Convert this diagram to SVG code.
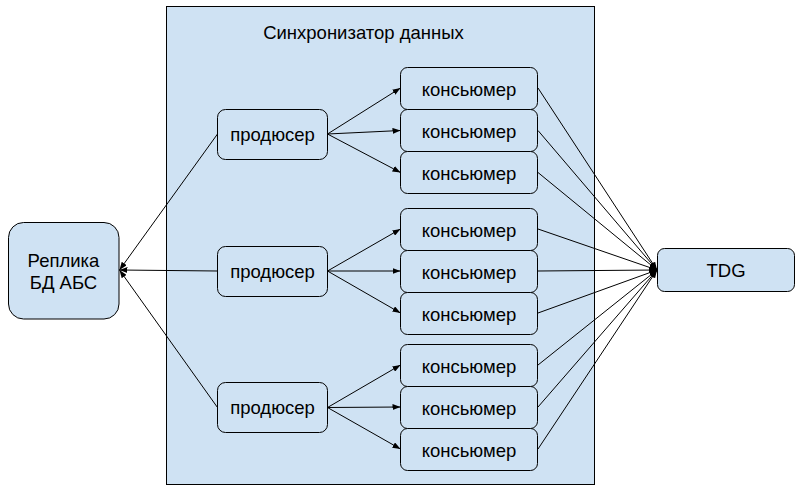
<svg xmlns="http://www.w3.org/2000/svg" width="800" height="491" viewBox="0 0 800 491">
<style>
.box{fill:#cfe2f3;stroke:#000;stroke-width:1}
.t{font-family:"Liberation Sans",Arial,sans-serif;font-size:18.5px;fill:#000;text-anchor:middle}
.c{stroke:#000;stroke-width:1;fill:none;marker-end:url(#ah)}
</style>
<defs>
<marker id="ah" markerUnits="userSpaceOnUse" viewBox="0 0 8 6" markerWidth="8" markerHeight="6" refX="8" refY="3" orient="auto">
<path d="M0,0 L8,3 L0,6 z" fill="#000"/>
</marker>
</defs>
<rect width="800" height="491" fill="#fff"/>
<g id="sync">
<rect class="box" x="166.5" y="6.5" width="428" height="478"/>
<text class="t" x="363.5" y="39">Синхронизатор данных</text>
</g>
<g id="connectors">
<path class="c" d="M217.5,134 L119.5,270"/>
<path class="c" d="M217.5,271 L119.5,270"/>
<path class="c" d="M217.5,407.5 L119.5,270"/>
<path class="c" d="M327.5,134 L400.5,88"/>
<path class="c" d="M327.5,134 L400.5,130.5"/>
<path class="c" d="M327.5,134 L400.5,172.5"/>
<path class="c" d="M327.5,271 L400.5,229"/>
<path class="c" d="M327.5,271 L400.5,271"/>
<path class="c" d="M327.5,271 L400.5,313"/>
<path class="c" d="M327.5,407.5 L400.5,365"/>
<path class="c" d="M327.5,407.5 L400.5,407"/>
<path class="c" d="M327.5,407.5 L400.5,449"/>
<path class="c" d="M538,88 L657,270"/>
<path class="c" d="M538,130.5 L657,270"/>
<path class="c" d="M538,172.5 L657,270"/>
<path class="c" d="M538,229 L657,270"/>
<path class="c" d="M538,271 L657,270"/>
<path class="c" d="M538,313 L657,270"/>
<path class="c" d="M538,365 L657,270"/>
<path class="c" d="M538,407 L657,270"/>
<path class="c" d="M538,449 L657,270"/>
</g>
<g id="replica">
<rect class="box" x="8.5" y="222.5" width="110.5" height="96.5" rx="15"/>
<text class="t" x="63.5" y="267">Реплика</text>
<text class="t" x="63.5" y="288.5">БД АБС</text>
</g>
<g id="tdg">
<rect class="box" x="657.5" y="248.5" width="137" height="43" rx="7"/>
<text class="t" x="726" y="277">TDG</text>
</g>
<g id="producer1">
<rect class="box" x="217.5" y="109.5" width="110" height="50" rx="8"/>
<text class="t" x="272.5" y="141">продюсер</text>
</g>
<g id="producer2">
<rect class="box" x="217.5" y="246.5" width="110" height="50" rx="8"/>
<text class="t" x="272.5" y="278">продюсер</text>
</g>
<g id="producer3">
<rect class="box" x="217.5" y="382.5" width="110" height="50" rx="8"/>
<text class="t" x="272.5" y="414">продюсер</text>
</g>
<g id="consumer1">
<rect class="box" x="400.5" y="67.5" width="137" height="42" rx="7"/>
<text class="t" x="469" y="95.5">консьюмер</text>
</g>
<g id="consumer2">
<rect class="box" x="400.5" y="109.5" width="137" height="42" rx="7"/>
<text class="t" x="469" y="137.5">консьюмер</text>
</g>
<g id="consumer3">
<rect class="box" x="400.5" y="151.5" width="137" height="42" rx="7"/>
<text class="t" x="469" y="179.5">консьюмер</text>
</g>
<g id="consumer4">
<rect class="box" x="400.5" y="208.5" width="137" height="42" rx="7"/>
<text class="t" x="469" y="236.5">консьюмер</text>
</g>
<g id="consumer5">
<rect class="box" x="400.5" y="250.5" width="137" height="42" rx="7"/>
<text class="t" x="469" y="278.5">консьюмер</text>
</g>
<g id="consumer6">
<rect class="box" x="400.5" y="292.5" width="137" height="42" rx="7"/>
<text class="t" x="469" y="320.5">консьюмер</text>
</g>
<g id="consumer7">
<rect class="box" x="400.5" y="344.5" width="137" height="42" rx="7"/>
<text class="t" x="469" y="372.5">консьюмер</text>
</g>
<g id="consumer8">
<rect class="box" x="400.5" y="386.5" width="137" height="42" rx="7"/>
<text class="t" x="469" y="414.5">консьюмер</text>
</g>
<g id="consumer9">
<rect class="box" x="400.5" y="428.5" width="137" height="42" rx="7"/>
<text class="t" x="469" y="456.5">консьюмер</text>
</g>
</svg>
